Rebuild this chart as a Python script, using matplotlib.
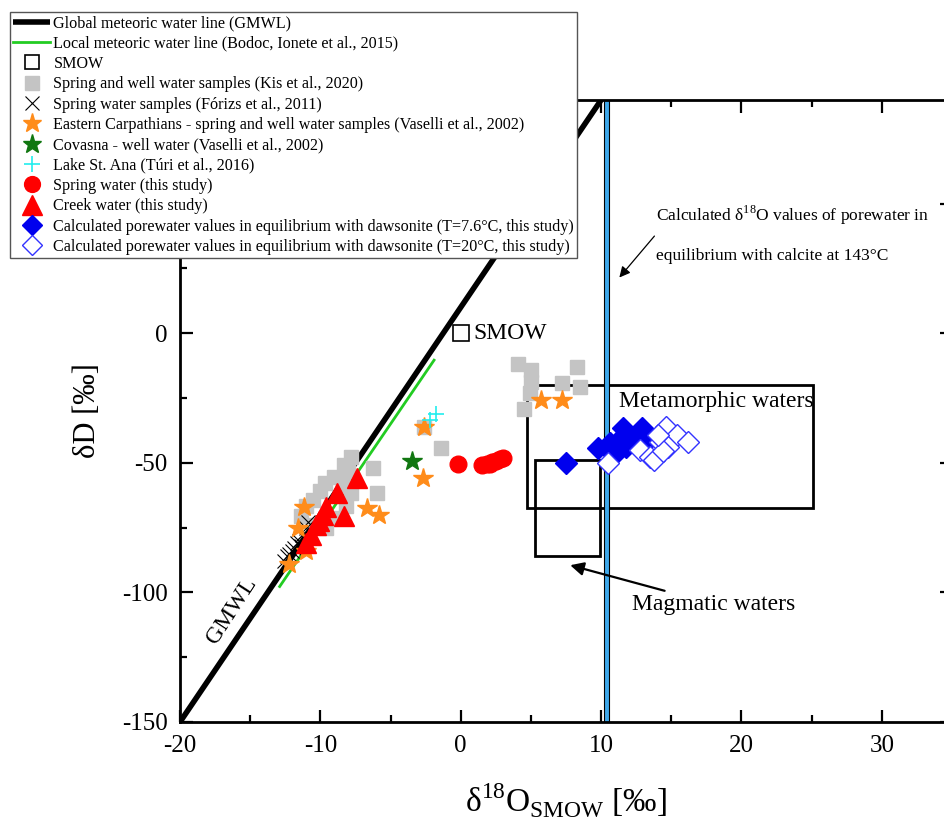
import numpy as np
import matplotlib
matplotlib.use('Agg')
import matplotlib.pyplot as plt
from matplotlib.patches import Rectangle

plt.rcParams['font.family'] = ['Liberation Serif', 'DejaVu Serif']
plt.rcParams['mathtext.fontset'] = 'custom'
plt.rcParams['mathtext.rm'] = 'Liberation Serif'
plt.rcParams['axes.unicode_minus'] = False

# Kis et al., 2020 - spring and well water (grey squares)
kis_x = [-7.8, -6.25, -6.0, -8.05, -8.3, -9.0, -9.7, -10.0, -10.5, -11.0, -11.35,
         -8.4, -8.15, -8.8, -9.6, -10.3, -7.8, 4.1, 5.0, 5.0, 8.25, 7.2, 8.5, 4.5,
         -1.4, -2.6, 4.9]
kis_y = [-47.6, -52.0, -61.7, -53.3, -50.8, -55.3, -57.7, -61.0, -64.2, -66.8, -70.6,
         -59.0, -66.8, -71.2, -75.0, -73.8, -61.6, -11.7, -14.2, -18.7, -13.0, -19.3, -20.6, -29.3,
         -44.3, -36.0, -23.0]

# Forizs et al., 2011 - spring water (black x)
forizs_x = [-12.6, -12.4, -12.2, -12.0, -11.9, -11.7, -11.5, -11.3, -11.2, -11.0, -10.9, -11.4]
forizs_y = [-88.0, -86.0, -85.0, -84.0, -83.0, -81.0, -80.0, -78.0, -77.0, -75.0, -73.0, -82.0]

# Vaselli et al., 2002 - Eastern Carpathians (orange stars)
carp_x = [-11.2, -6.7, -5.8, -11.6, -11.0, -12.2, -2.6, -2.7, 5.75, 7.2]
carp_y = [-67.0, -67.5, -70.0, -75.0, -84.0, -89.2, -36.3, -56.0, -25.8, -25.8]

# Covasna well water (green star)
cov_x = [-3.45]
cov_y = [-49.1]

# Lake St. Ana (cyan plus)
ana_x = [-1.75, -2.2]
ana_y = [-31.3, -33.6]

# this study - spring water (red circles)
spring_x = [-0.2, 1.5, 1.9, 2.2, 2.5, 2.8, 2.1, 3.0]
spring_y = [-50.4, -51.0, -50.3, -49.8, -49.2, -48.7, -50.5, -48.3]

# this study - creek water (red triangles)
creek_x = [-7.4, -8.8, -9.6, -8.3, -9.8, -10.3, -10.7, -11.0, -10.1]
creek_y = [-55.9, -61.7, -67.0, -70.6, -70.0, -74.0, -77.9, -80.9, -72.5]

# dawsonite, T=7.6 C (filled diamonds)
daw7_x = [7.5, 9.8, 10.6, 11.57, 12.9, 12.3, 11.3, 11.1, 10.9, 13.2, 11.8]
daw7_y = [-50.1, -44.4, -42.4, -36.7, -36.7, -39.9, -41.2, -45.6, -46.9, -41.8, -43.7]

# dawsonite, T=20 C (open diamonds)
daw20_x = [10.5, 12.75, 13.5, 13.8, 14.2, 14.65, 15.4, 14.8, 14.4, 16.2, 14.07]
daw20_y = [-50.1, -45.0, -47.6, -48.8, -41.8, -36.0, -39.2, -43.7, -45.6, -41.8, -39.2]

# meteoric water lines
gmwl_x = np.array([-20.0, 10.0])
gmwl_y = 8 * gmwl_x + 10
lmwl_x = np.array([-12.9, -1.9])
lmwl_y = 7.94 * lmwl_x + 4.7

fig = plt.figure(figsize=(9.45, 8.18), dpi=100)
ax = fig.add_axes([180 / 945, 96 / 818, 772 / 945, 622 / 818])

ax.set_xlim(-20, 35)
ax.set_ylim(-150, 90)

# calcite equilibrium band
ax.axvspan(10.2, 10.55, facecolor='#3EA8EA', edgecolor='black', lw=0.8, zorder=2)

# water type boxes
ax.add_patch(Rectangle((4.7, -67.3), 20.4, 47.3, fill=False, ec='black', lw=2.0, zorder=1))
ax.add_patch(Rectangle((5.3, -86.0), 4.6, 37.0, fill=False, ec='black', lw=2.0, zorder=1))

l1, = ax.plot(gmwl_x, gmwl_y, color='black', lw=4, zorder=3,
              label='Global meteoric water line (GMWL)', solid_capstyle='butt')
l2, = ax.plot(lmwl_x, lmwl_y, color='#22CC22', lw=2, zorder=3,
              label='Local meteoric water line (Bodoc, Ionete et al., 2015)')
l3, = ax.plot([0], [0], ls='none', marker='s', ms=11, mfc='white', mec='black', mew=1.2,
              zorder=5, label='SMOW')
l4, = ax.plot(kis_x, kis_y, ls='none', marker='s', ms=10, color='#C4C4C4', zorder=4,
              label='Spring and well water samples (Kis et al., 2020)')
l5, = ax.plot(forizs_x, forizs_y, ls='none', marker='x', ms=10, color='black', mew=0.8, zorder=5,
              label='Spring water samples (Fórizs et al., 2011)')
l6, = ax.plot(carp_x, carp_y, ls='none', marker='*', ms=15, color='#FF8C1A', zorder=6,
              label='Eastern Carpathians - spring and well water samples (Vaselli et al., 2002)')
l7, = ax.plot(cov_x, cov_y, ls='none', marker='*', ms=15, color='#117711', zorder=6,
              label='Covasna - well water (Vaselli et al., 2002)')
l8, = ax.plot(ana_x, ana_y, ls='none', marker='+', ms=12, color='#22EEEE', mew=1.2, zorder=7,
              label='Lake St. Ana (Túri et al., 2016)')
l9, = ax.plot(spring_x, spring_y, ls='none', marker='o', ms=12, color='#FF0000', zorder=6,
              label='Spring water (this study)')
l10, = ax.plot(creek_x, creek_y, ls='none', marker='^', ms=15, color='#FF0000', zorder=6,
               label='Creek water (this study)')
l11, = ax.plot(daw7_x, daw7_y, ls='none', marker='D', ms=11, color='#0000EE', zorder=6,
               label='Calculated porewater values in equilibrium with dawsonite (T=7.6°C, this study)')
l12, = ax.plot(daw20_x, daw20_y, ls='none', marker='D', ms=11, mfc='white', mec='#3333FF', mew=1.0,
               zorder=7, label='Calculated porewater values in equilibrium with dawsonite (T=20°C, this study)')

# annotations
ax.text(0.9, 0, 'SMOW', fontsize=17, va='center', ha='left')
ax.text(11.3, -26.5, 'Metamorphic waters', fontsize=17, va='center', ha='left')
ax.annotate('Magmatic waters', xy=(7.8, -89.5), xytext=(12.2, -104.5), fontsize=17,
            va='center', ha='left',
            arrowprops=dict(arrowstyle='-|>', color='black', lw=1.6, mutation_scale=20,
                            shrinkA=0, shrinkB=0))
ax.text(13.9, 45.5, 'Calculated δ$^{18}$O values of porewater in', fontsize=12.5, va='center', ha='left')
ax.text(13.9, 30.0, 'equilibrium with calcite at 143°C', fontsize=12.5, va='center', ha='left')
ax.annotate('', xy=(11.3, 21.5), xytext=(13.8, 37.5),
            arrowprops=dict(arrowstyle='-|>', color='black', lw=0.9, mutation_scale=16,
                            shrinkA=0, shrinkB=0))
ax.text(-16.3, -107, 'GMWL', fontsize=17, rotation=57, ha='center', va='center', rotation_mode='anchor')

# ticks and frame
ax.set_xticks([-20, -10, 0, 10, 20, 30])
ax.set_xticks([-15, -5, 5, 15, 25], minor=True)
ax.set_yticks([-150, -100, -50, 0, 50])
ax.set_yticklabels(['-150', '-100', '-50', '0', ''])  # 50 sits under the legend
ax.set_yticks([-125, -75, -25, 25, 75], minor=True)
ax.tick_params(which='both', direction='in', top=True, right=True, labelsize=18, width=1.6, pad=9)
ax.tick_params(which='major', length=9)
ax.tick_params(which='minor', length=5)
for s in ax.spines.values():
    s.set_linewidth(2.0)

ax.set_ylabel('δD [‰]', fontsize=22, labelpad=14)
ax.set_xlabel('δ$^{18}$O$_{\\mathrm{SMOW}}$ [‰]', fontsize=24, labelpad=18)

leg = fig.legend(handles=[l1, l2, l3, l4, l5, l6, l7, l8, l9, l10, l11, l12],
                 loc='upper left', bbox_to_anchor=(10 / 945, 1 - 12 / 818), borderaxespad=0,
                 fontsize=11.6, frameon=True, fancybox=False, edgecolor='#555555',
                 framealpha=1, labelspacing=0.27, handlelength=2.3, handletextpad=0.2,
                 borderpad=0.2, markerscale=0.95)
leg.get_frame().set_linewidth(1.0)
leg.set_zorder(20)

fig.savefig('out.png', dpi=100)
